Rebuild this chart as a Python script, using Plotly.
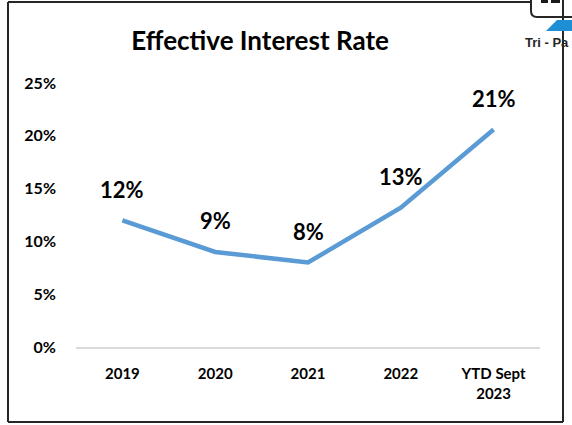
import plotly.graph_objects as go

categories = ["2019", "2020", "2021", "2022", "YTD Sept<br>2023"]
rates = [12.0, 9.0, 8.0, 13.2, 20.6]
value_labels = ["12%", "9%", "8%", "13%", "21%"]
y_ticks = [0, 5, 10, 15, 20, 25]
y_tick_labels = ["0%", "5%", "10%", "15%", "20%", "25%"]

W, H = 572, 425
L, R, T, B = 76, 540, 83, 347  # plot area in pixels

def px(x):
    return (x - L) / (R - L)

def py(y):
    return (B - y) / (B - T)

FONT = "Lato"

fig = go.Figure()
fig.add_trace(go.Scatter(
    x=list(range(len(categories))), y=rates, mode="lines",
    line=dict(color="#5B9BD5", width=4.5), hoverinfo="skip", showlegend=False,
))

for i, (v, t) in enumerate(zip(rates, value_labels)):
    fig.add_annotation(x=i, y=v, text=f"<b>{t}</b>", showarrow=False, yshift=31,
                       font=dict(family=FONT, size=22, color="#000000"),
                       xanchor="center", yanchor="middle")

shapes = []
line_style = dict(color="#262626", width=2)
# frame
shapes.append(dict(type="line", xref="paper", yref="paper", x0=px(8), x1=px(8), y0=py(2), y1=py(422), line=line_style))
shapes.append(dict(type="line", xref="paper", yref="paper", x0=px(8), x1=px(531), y0=py(2), y1=py(2), line=line_style))
shapes.append(dict(type="line", xref="paper", yref="paper", x0=px(8), x1=px(563), y0=py(422), y1=py(422), line=line_style))
shapes.append(dict(type="line", xref="paper", yref="paper", x0=px(563), x1=px(563), y0=py(-2), y1=py(422), line=line_style))
# logo box
path = (f"M {px(531)},{py(-2)} L {px(531)},{py(11)} Q {px(531)},{py(17)} {px(537)},{py(17)} L {px(575)},{py(17)}")
shapes.append(dict(type="path", xref="paper", yref="paper", path=path, line=dict(color="#262626", width=2)))
tri = (f"M {px(546)},{py(31)} L {px(557)},{py(20)} L {px(575)},{py(20)} L {px(575)},{py(31)} Z")
shapes.append(dict(type="path", xref="paper", yref="paper", path=tri, fillcolor="#1E8FD5", line=dict(width=0)))
# clipped dark logo lettering at the very top
for x0, x1 in [(541, 548), (551, 560)]:
    shapes.append(dict(type="rect", xref="paper", yref="paper", x0=px(x0), x1=px(x1), y0=py(3), y1=py(-1),
                       fillcolor="#1a1a1a", line=dict(width=0)))

fig.add_annotation(xref="paper", yref="paper", x=px(523), y=py(42), text="<b>Tri - Pa</b>",
                   showarrow=False, xanchor="left", yanchor="middle",
                   font=dict(family="Liberation Sans", size=13, color="#262626"))

fig.update_layout(
    width=W, height=H,
    margin=dict(l=L, r=W - R, t=T, b=H - B),
    paper_bgcolor="white", plot_bgcolor="white",
    shapes=shapes,
    title=dict(text="<b>Effective Interest Rate</b>", x=px(287), xanchor="center",
               y=1 - 41 / H, yanchor="middle",
               font=dict(family=FONT, size=26, color="#000000")),
    xaxis=dict(tickmode="array", tickvals=list(range(len(categories))),
               ticktext=[f"<b>{c}</b>" for c in categories],
               range=[-0.5, len(categories) - 0.5], showgrid=False, zeroline=False,
               showline=True, linecolor="#D9D9D9", linewidth=2, ticks="",
               ticklabelstandoff=12,
               tickfont=dict(family=FONT, size=15, color="#000000")),
    yaxis=dict(tickmode="array", tickvals=y_ticks, ticktext=[f"<b>{t}</b>" for t in y_tick_labels],
               range=[0, 25], showgrid=False, zeroline=False, showline=False, ticks="",
               ticklabelstandoff=19,
               tickfont=dict(family=FONT, size=16, color="#000000")),
)

fig.write_html("out.html", config={"displayModeBar": False},
               post_script="document.body.style.margin='0';document.body.style.overflow='hidden';")
